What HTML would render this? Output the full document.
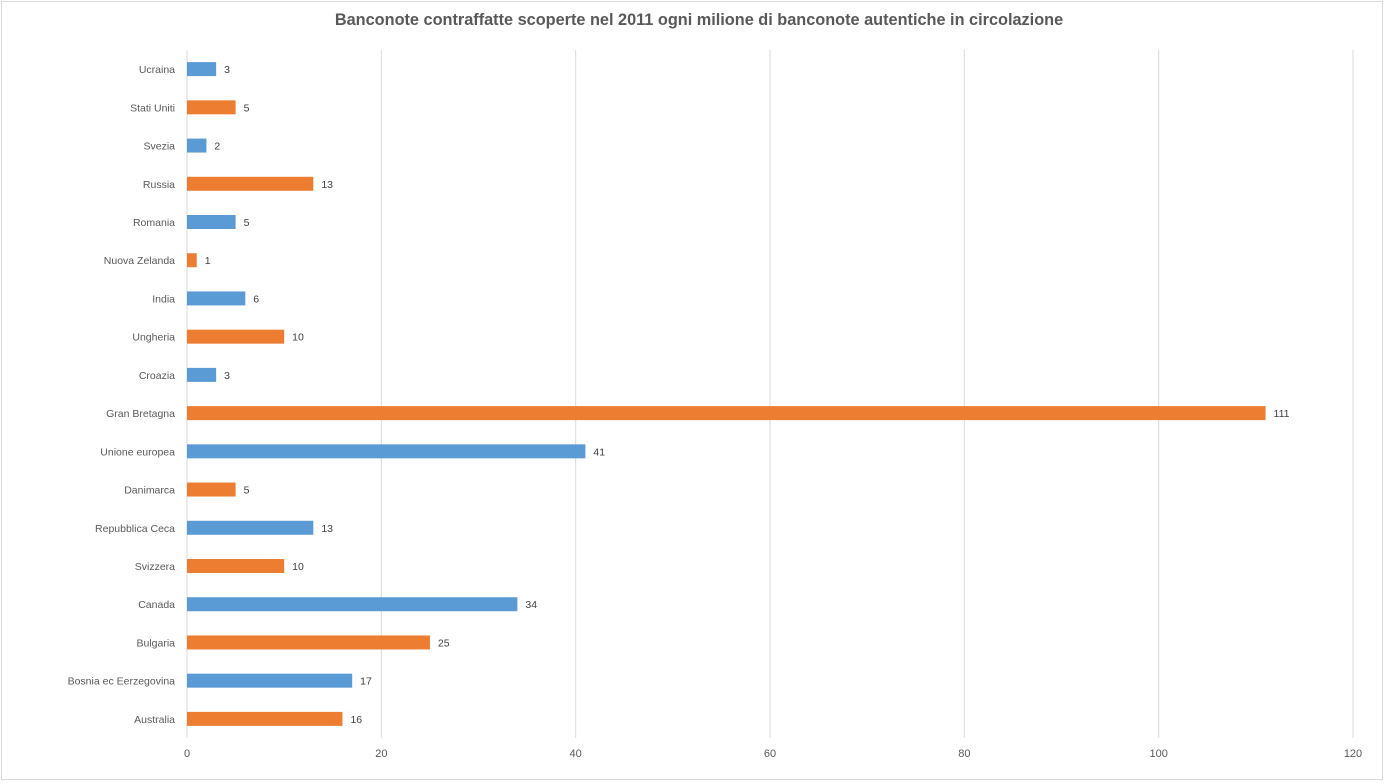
<!DOCTYPE html>
<html><head><meta charset="utf-8"><style>
html,body{margin:0;padding:0;background:#fff;}
svg{display:block;font-family:"Liberation Sans",Arial,sans-serif;}
</style></head><body>
<svg id="chart" width="1385" height="783">
<rect x="1.5" y="1.5" width="1381" height="778" fill="#fff" stroke="#d9d9d9"/>
<text x="699" y="25" text-anchor="middle" font-size="16.3" font-weight="bold" fill="#595959">Banconote contraffatte scoperte nel 2011 ogni milione di banconote autentiche in circolazione</text>
<g id="grid"></g><g id="bars"></g><g id="labels"></g>
</svg>
<script>
const categories=["Ucraina","Stati Uniti","Svezia","Russia","Romania","Nuova Zelanda","India","Ungheria","Croazia","Gran Bretagna","Unione europea","Danimarca","Repubblica Ceca","Svizzera","Canada","Bulgaria","Bosnia ec Eerzegovina","Australia"];
const values=[3,5,2,13,5,1,6,10,3,111,41,5,13,10,34,25,17,16];
const ticks=[0,20,40,60,80,100,120];
const NS="http://www.w3.org/2000/svg";
const x0=187,x1=1353,vmax=120,yTop=50,yBot=738;
const xs=v=>x0+(v/vmax)*(x1-x0);
const step=(yBot-yTop)/categories.length;
const yc=i=>yTop+step*(i+0.5);
function mk(tag,attrs,parent){const e=document.createElementNS(NS,tag);for(const k in attrs)e.setAttribute(k,attrs[k]);parent.appendChild(e);return e;}
const grid=document.getElementById('grid'),bars=document.getElementById('bars'),labels=document.getElementById('labels');
ticks.forEach(t=>{
  const l=mk('line',{x1:xs(t),x2:xs(t),y1:yTop,y2:yBot,stroke:'#d9d9d9','stroke-width':1},grid);
  
  
  const tx=mk('text',{x:xs(t),y:757,'text-anchor':'middle','font-size':11,fill:'#595959'},grid);
  tx.textContent=t;
  
  
});
categories.forEach((c,i)=>{
  const y=yc(i);
  const r=mk('rect',{x:x0,y:y-7,width:xs(values[i])-x0,height:14,fill:i%2===0?'#5B9BD5':'#ED7D31'},bars);
  
  
  const lb=mk('text',{x:175,y:y+4,'text-anchor':'end','font-size':10.5,fill:'#595959'},labels);
  lb.textContent=c;
  
  
  const vl=mk('text',{x:xs(values[i])+8,y:y+4,'font-size':10.5,fill:'#404040'},labels);
  vl.textContent=values[i];
  
  
});
</script>
</body></html>
